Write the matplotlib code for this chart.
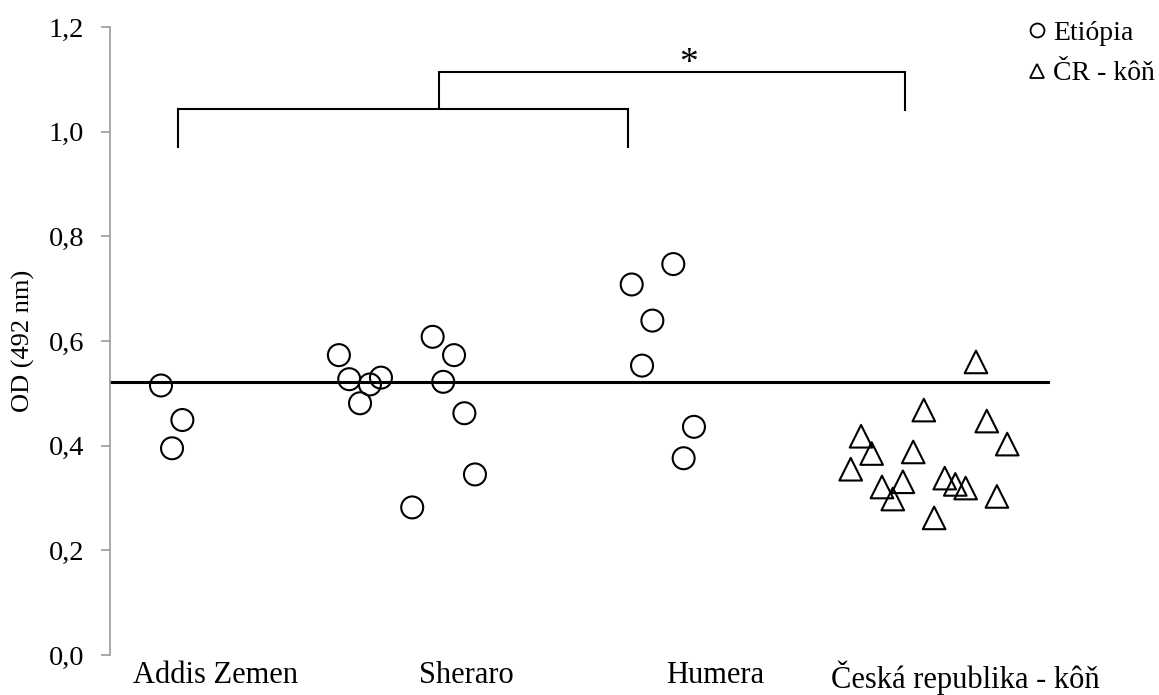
import matplotlib
matplotlib.use("Agg")
import matplotlib.pyplot as plt
from matplotlib.lines import Line2D

plt.rcParams['font.family'] = ['Liberation Serif', 'DejaVu Serif']

# Group labels and their positions on the horizontal scale
groups = ["Addis Zemen", "Sheraro", "Humera", "Česká republika - kôň"]
group_pos = [0.451, 1.515, 2.574, 3.638]

# Ethiopian samples (circles): x position within the group, OD value
addis_x = [0.217, 0.308, 0.264]
addis_y = [0.515, 0.449, 0.395]
sheraro_x = [0.974, 1.018, 1.106, 1.153, 1.064, 1.373, 1.464, 1.418, 1.508, 1.553, 1.286]
sheraro_y = [0.573, 0.527, 0.517, 0.530, 0.481, 0.608, 0.573, 0.522, 0.462, 0.345, 0.282]
humera_x = [2.397, 2.220, 2.308, 2.264, 2.485, 2.441]
humera_y = [0.747, 0.708, 0.639, 0.553, 0.436, 0.376]

# Czech horse samples (triangles)
cz_x = [3.685, 3.463, 3.731, 3.818, 3.196, 3.241, 3.418, 3.152,
        3.374, 3.285, 3.331, 3.552, 3.597, 3.641, 3.774, 3.507]
cz_y = [0.560, 0.468, 0.447, 0.403, 0.418, 0.385, 0.388, 0.355,
        0.331, 0.321, 0.298, 0.338, 0.326, 0.319, 0.303, 0.262]

cutoff = 0.522

# Significance brackets
low_bracket_x = [0.289, 2.204]
low_bracket_y = [0.971, 1.043]
high_bracket_x = [1.400, 3.383]
high_bracket_y = [1.041, 1.114]
star_x, star_y = 2.460, 1.112

yticks = [0.0, 0.2, 0.4, 0.6, 0.8, 1.0, 1.2]

W, H = 1159, 695
fig = plt.figure(figsize=(W / 100, H / 100), dpi=100)
ax = fig.add_axes([110 / W, 1 - 655 / H, (1050 - 110) / W, (655 - 27) / H])

eth_x = addis_x + sheraro_x + humera_x
eth_y = addis_y + sheraro_y + humera_y
ax.scatter(eth_x, eth_y, s=250, marker='o', facecolors='none',
           edgecolors='black', linewidths=1.5, zorder=3, clip_on=False)
ax.scatter(cz_x, cz_y, s=265, marker='^', facecolors='none',
           edgecolors='black', linewidths=1.5, zorder=3, clip_on=False)

ax.axhline(cutoff, color='black', lw=2.2, zorder=2)

# brackets
lx0, lx1 = low_bracket_x
ly0, ly1 = low_bracket_y
ax.plot([lx0, lx0, lx1, lx1], [ly0, ly1, ly1, ly0], color='black', lw=1.5,
        solid_joinstyle='miter', clip_on=False)
hx0, hx1 = high_bracket_x
hy0, hy1 = high_bracket_y
ax.plot([hx0, hx0, hx1, hx1], [ly1, hy1, hy1, hy0], color='black', lw=1.5,
        solid_joinstyle='miter', clip_on=False)
ax.text(star_x, star_y, "*", ha='center', va='baseline', fontsize=27)

ax.set_xlim(0, 4)
ax.set_ylim(0, 1.2)
ax.set_yticks(yticks)
ax.set_yticklabels([f"{v:.1f}".replace('.', ',') for v in yticks])
ax.set_xticks(group_pos)
ax.set_xticklabels(groups)

for side in ('top', 'right', 'bottom'):
    ax.spines[side].set_visible(False)
ax.spines['left'].set_color('#9a9a9a')
ax.spines['left'].set_linewidth(1.2)
ax.tick_params(axis='y', direction='out', length=6.5, width=1.2,
               color='#9a9a9a', labelsize=20.5, pad=12)
ax.tick_params(axis='x', length=0, labelsize=22, pad=4.2)
ax.set_ylabel("OD (492 nm)", fontsize=19, labelpad=10)

handles = [
    Line2D([], [], marker='o', ls='none', markerfacecolor='none',
           markeredgecolor='black', markersize=10, markeredgewidth=1.3),
    Line2D([], [], marker='^', ls='none', markerfacecolor='none',
           markeredgecolor='black', markersize=10, markeredgewidth=1.3),
]
fig.legend(handles, ["Etiópia", "ČR - kôň"], loc='upper left',
           bbox_to_anchor=(1018 / W, 1 - 9 / H), frameon=False,
           fontsize=20, handlelength=0.6, handletextpad=0.25,
           labelspacing=0.55, borderaxespad=0)

fig.savefig("out.png", dpi=100)
